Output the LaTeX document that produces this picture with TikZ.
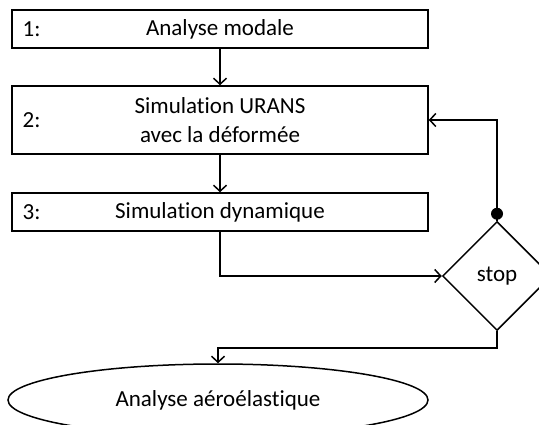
\documentclass[tikz,border=0pt]{standalone}
\usepackage{fontspec}
\setmainfont{Carlito}[Ligatures={NoCommon}]
\usetikzlibrary{arrows.meta, positioning, shapes.geometric}

\begin{document}
\begin{tikzpicture}[
      x=1pt, y=-1pt,
      line width=1.5pt,
      every node/.style={font=\fontsize{23}{29}\selectfont},
      etape/.style={draw, minimum width=416pt, inner sep=0pt, align=center},
      numero/.style={anchor=west, inner sep=0pt},
      decision/.style={diamond, draw, minimum width=109pt, minimum height=109pt, inner sep=0pt},
      fin/.style={ellipse, draw, minimum width=420pt, minimum height=72pt, inner sep=0pt},
      fleche/.style={-{Straight Barb[length=6pt, width=13pt]}}
    ]
      \useasboundingbox (0,0) rectangle (539,425);
      % etapes
      \node[etape, minimum height=38pt] (etape1) at (220,29) {Analyse modale};
      \node[etape, minimum height=68pt] (etape2) at (220,120) {Simulation URANS\\avec la déformée};
      \node[etape, minimum height=38pt] (etape3) at (220,212) {Simulation dynamique};
      \node[numero] (num1) at (22,29) {1:};
      \node[numero] (num2) at (22,120) {2:};
      \node[numero] (num3) at (22,212) {3:};
      \node[decision] (stop) at (497,276) {stop};
      \node[fin] (resultat) at (218,400) {Analyse aéroélastique};
      \coordinate (coude) at (497,348);
      % connecteurs
      \draw[fleche] (etape1) -- (etape2);
      \draw[fleche] (etape2) -- (etape3);
      \draw[fleche] (etape3.south) |- (stop.west);
      \draw[fleche] (stop.north) |- (etape2.east);
      \fill ([yshift=7pt]stop.north) circle (6pt);
      \draw[fleche] (stop.south) -- (coude) -| (resultat.north);
    \end{tikzpicture}
\end{document}
